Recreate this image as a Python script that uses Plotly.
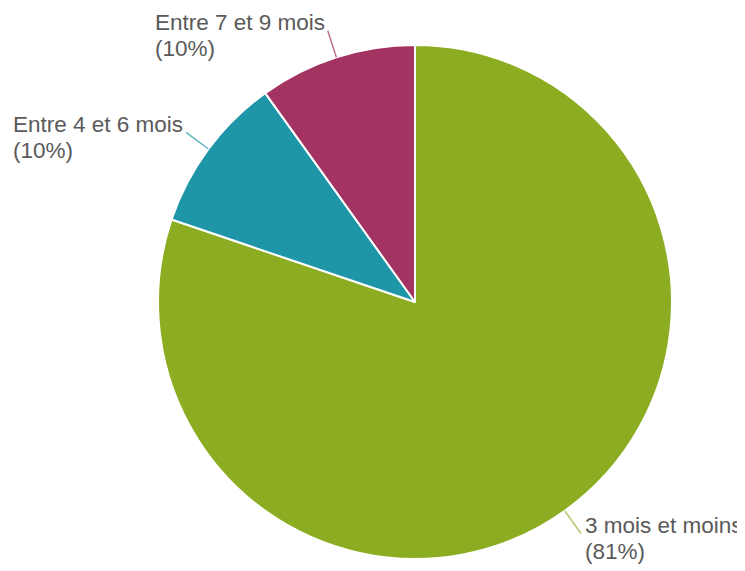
import math

import plotly.graph_objects as go

# data
labels = ["3 mois et moins", "Entre 4 et 6 mois", "Entre 7 et 9 mois"]
shares = [81, 10, 10]  # percent, as printed
colors = ["#8CAD21", "#1E96A8", "#A33462"]

# page body has an 8px margin, so the figure is drawn 8px in from the corner
OFF = 8
W, H = 745 - OFF, 571 - OFF
CX, CY, R = 415 - OFF, 302 - OFF, 257  # pie centre / radius in figure pixels
FONT = dict(family="Liberation Sans, Arial", size=22.5, color="#5a5a5a")
LINE_GAP = 26
LABEL_W = 175  # rendered width of the "Entre x et y mois" lines, plus padding


def to_paper(px, py):
    return px / W, 1 - py / H


fig = go.Figure(
    go.Pie(
        labels=labels,
        values=shares,
        sort=False,
        direction="clockwise",
        rotation=0,
        textinfo="none",
        marker=dict(colors=colors, line=dict(color="white", width=2)),
        domain=dict(
            x=[(CX - R) / W, (CX + R) / W],
            y=[1 - (CY + R) / H, 1 - (CY - R) / H],
        ),
        showlegend=False,
    )
)

total = sum(shares)
cum = 0
shapes, annotations = [], []
for lab, val, col in zip(labels, shares, colors):
    mid = (cum + val / 2) / total * 2 * math.pi  # clockwise from 12 o'clock
    cum += val
    sx, sy = CX + R * math.sin(mid), CY - R * math.cos(mid)
    ex, ey = CX + (R + 28) * math.sin(mid), CY - (R + 28) * math.cos(mid)
    x0, y0 = to_paper(sx, sy)
    x1, y1 = to_paper(ex, ey)
    shapes.append(
        dict(type="line", xref="paper", yref="paper", x0=x0, y0=y0, x1=x1, y1=y1,
             line=dict(color=col, width=1.5), opacity=0.7)
    )
    if math.sin(mid) > 0:
        tx, ty = ex + 2, ey - 8
    else:
        tx, ty = ex - LABEL_W, ey - 8
    for i, txt in enumerate([lab, f"({val}%)"]):
        ax, ay = to_paper(tx, ty + i * LINE_GAP)
        annotations.append(
            dict(
                x=ax, y=ay, xref="paper", yref="paper", text=txt,
                showarrow=False, xanchor="left", yanchor="middle", font=FONT,
            )
        )

fig.update_layout(
    width=W, height=H,
    margin=dict(l=0, r=0, t=0, b=0),
    paper_bgcolor="white",
    plot_bgcolor="white",
    shapes=shapes,
    annotations=annotations,
)

fig.write_html("out.html")
